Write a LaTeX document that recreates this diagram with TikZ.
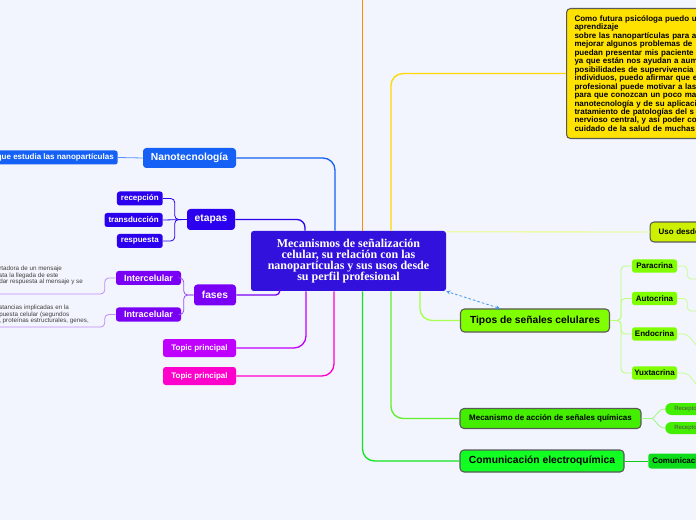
\documentclass[tikz,border=0pt]{standalone}
\usepackage{fontspec}
\setmainfont{Liberation Sans}
\newfontfamily\titlefont{Liberation Serif}
\usetikzlibrary{calc, arrows.meta, positioning}

\definecolor{bgcol}{HTML}{F2F5FD}
\definecolor{centralcol}{HTML}{3311DD}
\definecolor{nanocol}{HTML}{1560F5}
\definecolor{etapacol}{HTML}{2A00EE}
\definecolor{fasecol}{HTML}{7A00F5}
\definecolor{topicA}{HTML}{C000FF}
\definecolor{topicB}{HTML}{FF00CC}
\definecolor{orangecol}{HTML}{FF8C00}
\definecolor{yellowcol}{HTML}{FFE200}
\definecolor{usocol}{HTML}{CCF000}
\definecolor{tiposcol}{HTML}{80FF00}
\definecolor{mecacol}{HTML}{44EE00}
\definecolor{comucol}{HTML}{11FF22}
\definecolor{arrowblue}{HTML}{4499EE}

\begin{document}
\begin{tikzpicture}[x=0.75pt, y=-0.75pt, >={Stealth[length=3pt, width=3pt]}]
        % Define block styles
        \tikzstyle{topic} = [rounded corners=2.5pt, inner sep=0pt, text=white, font=\bfseries\fontsize{7.7}{9}\selectfont]
        \tikzstyle{subtopic} = [rounded corners=2pt, inner ysep=0pt, inner xsep=3pt, minimum height=10.5pt, text=white, font=\bfseries\fontsize{6}{7}\selectfont]
        \tikzstyle{mainbox} = [draw=black!65, line width=0.8pt, rounded corners=3pt, inner sep=0pt, font=\bfseries\fontsize{7.7}{9}\selectfont]
        \tikzstyle{leaf} = [rounded corners=2pt, inner sep=0pt, font=\bfseries\fontsize{6}{7}\selectfont]
        \tikzstyle{note} = [inner sep=0pt, align=left, text=black!75, font=\fontsize{4.7}{4.8}\selectfont]
        \tikzstyle{branch} = [line width=1pt, rounded corners=9pt]
        \tikzstyle{twig} = [line width=0.6pt, rounded corners=3pt]

        \useasboundingbox (0,0) rectangle (696,520);
        \fill[bgcol] (0,0) rectangle (696,520);
        \clip (0,0) rectangle (696,520);

        % Nodes
        \node [fill=centralcol, text=white, rounded corners=2pt, minimum width=146.25pt, minimum height=45pt, inner sep=0pt, align=center, font=\titlefont\bfseries\fontsize{9}{8.4}\selectfont] (central) at (348.5,261) {Mecanismos de señalización\\celular, su relación con las\\nanopartículas y sus usos desde\\su perfil profesional};

        \node [topic, fill=nanocol, minimum width=69.75pt, minimum height=15pt] (nano) at (189.5,158) {Nanotecnología};
        \node [subtopic, fill=nanocol, anchor=east] (nanodef) at (118,157.5) {que estudia las nanopartículas};

        \node [topic, fill=etapacol, minimum width=36pt, minimum height=15.75pt] (etapas) at (211,219.5) {etapas};
        \node [subtopic, fill=etapacol, anchor=east] (recep) at (163,198.5) {recepción};
        \node [subtopic, fill=etapacol, anchor=east] (transd) at (163,220) {transducción};
        \node [subtopic, fill=etapacol, anchor=east] (resp) at (163,241) {respuesta};

        \node [topic, fill=fasecol, minimum width=31.5pt, minimum height=15.75pt] (fases) at (215,295) {fases};
        \node [subtopic, fill=fasecol, minimum width=48.75pt, font=\bfseries\fontsize{6.8}{7}\selectfont] (inter) at (148.5,278) {Intercelular};
        \node [subtopic, fill=fasecol, minimum width=48.75pt, font=\bfseries\fontsize{6.8}{7}\selectfont] (intra) at (148.5,314.5) {Intracelular};
        \node [note, anchor=north west] (intertxt) at (-1,266) {rtadora de un mensaje\\sta la llegada de este\\dar respuesta al mensaje y se};
        \node [note, anchor=north west] (intratxt) at (-1,305) {stancias implicadas en la\\puesta celular (segundos\\, proteínas estructurales, genes,};
        \coordinate (interend) at (-6,294);
        \coordinate (intraend) at (-6,327);

        \node [subtopic, fill=topicA, minimum width=54.75pt, minimum height=13.5pt] (topicone) at (199.5,348) {Topic principal};
        \node [subtopic, fill=topicB, minimum width=54.75pt, minimum height=13.5pt] (topictwo) at (199.5,376) {Topic principal};

        \coordinate (offtop) at (362.5,-4);
        \node [mainbox, fill=yellowcol, anchor=north west, text width=150pt, minimum height=97.5pt, inner xsep=6pt, align=left, font=\bfseries\fontsize{6}{6.35}\selectfont] (uso1) at (566,8) {Como futura psicóloga puedo u\\aprendizaje\\sobre las nanopartículas para a\\mejorar algunos problemas de\\puedan presentar mis paciente\\ya que están nos ayudan a aum\\posibilidades de supervivencia\\individuos, puedo afirmar que e\\profesional puede motivar a las\\para que conozcan un poco ma\\nanotecnología y de su aplicaci\\tratamiento de patologías del s\\nervioso central, y así poder co\\cuidado de la salud de muchas};
        \node [mainbox, fill=usocol, anchor=west, text width=60pt, minimum height=15pt, inner xsep=6.4pt, align=left, font=\bfseries\fontsize{6}{7}\selectfont] (uso2) at (649.5,232) {Uso desde};

        \node [mainbox, fill=tiposcol, minimum width=111.75pt, minimum height=17.25pt] (tipos) at (535,320.5) {Tipos de señales celulares};
        \node [leaf, fill=tiposcol, minimum width=33.75pt, minimum height=10.1pt] (para) at (654.5,266) {Paracrina};
        \node [leaf, fill=tiposcol, minimum width=33.75pt, minimum height=10.1pt] (auto) at (654.5,298.5) {Autocrina};
        \node [leaf, fill=tiposcol, minimum width=33.75pt, minimum height=10.1pt] (endo) at (654.5,334) {Endocrina};
        \node [leaf, fill=tiposcol, minimum width=33.75pt, minimum height=10.1pt] (yuxt) at (654.5,373) {Yuxtacrina};
        \coordinate (paraend) at (705,279);
        \coordinate (autoend) at (705,311);
        \coordinate (endoend) at (705,356);
        \coordinate (yuxtend) at (705,395);

        \node [mainbox, fill=mecacol, minimum width=135.75pt, minimum height=15pt, font=\bfseries\fontsize{6}{7}\selectfont] (meca) at (550.5,418.5) {Mecanismo de acción de señales químicas};
        \node [leaf, fill=mecacol, anchor=west, rounded corners=4.5pt, text width=40pt, minimum height=9pt, inner xsep=6.75pt, align=left, text=black!70, font=\fontsize{4.5}{5}\selectfont] (recone) at (665,409) {Recepto};
        \node [leaf, fill=mecacol, anchor=west, rounded corners=4.5pt, text width=40pt, minimum height=9pt, inner xsep=6.75pt, align=left, text=black!70, font=\fontsize{4.5}{5}\selectfont] (rectwo) at (665,428) {Recepto};

        \node [mainbox, fill=comucol, minimum width=123pt, minimum height=16.5pt] (comu) at (542,461) {Comunicación electroquímica};
        \node [leaf, fill=comucol!85!black!90!green, anchor=west, text width=60pt, minimum height=11.25pt, inner xsep=3pt, align=left] (comusub) at (648,461) {Comunicaci};

        % Edges
        \draw [branch, nanocol] ($(central.north)+(-13.5,0)$) |- (nano.east);
        \draw [twig, nanocol!70] (nanodef.east) -- (nano.west);
        \draw [branch, etapacol, rounded corners=6pt] ($(central.north)+(-43.5,0)$) |- (etapas.east);
        \draw [twig, etapacol] (etapas.west) -- +(-12,0) |- (recep.east);
        \draw [twig, etapacol] (etapas.west) -- (transd.east);
        \draw [twig, etapacol] (etapas.west) -- +(-12,0) |- (resp.east);
        \draw [branch, fasecol, rounded corners=3pt] ($(central.south west)+(29,0)$) |- (fases.east);
        \draw [twig, fasecol!70] (fases.west) -- +(-10,0) |- (inter.east);
        \draw [twig, fasecol!70] (fases.west) -- +(-10,0) |- (intra.east);
        \draw [twig, fasecol!45] (inter.west) -- +(-11,0) |- (interend);
        \draw [twig, fasecol!45] (intra.west) -- +(-11,0) |- (intraend);
        \draw [branch, topicA] ($(central.south)+(-42.5,0)$) |- (topicone.east);
        \draw [branch, topicB] ($(central.south)+(-14.5,0)$) |- (topictwo.east);

        \draw [branch, orangecol] ($(central.north)+(14,0)$) -- (offtop);
        \draw [branch, yellowcol!90!orange] ($(central.north)+(42.5,0)$) |- (uso1.west);
        \draw [branch, usocol!35] ($(central.north east)+(0,1)$) -- (uso2.west);
        \draw [branch, tiposcol!70] ($(central.south)+(71.5,0)$) |- (tipos.west);
        \draw [twig, tiposcol!55] (tipos.east) -- +(11,0) |- (para.west);
        \draw [twig, tiposcol!55] (tipos.east) -- +(11,0) |- (auto.west);
        \draw [twig, tiposcol!55] (tipos.east) -- +(11,0) |- (endo.west);
        \draw [twig, tiposcol!55] (tipos.east) -- +(11,0) |- (yuxt.west);
        \draw [twig, tiposcol!45] (para.east) -- +(10,0) |- (paraend);
        \draw [twig, tiposcol!45] (auto.east) -- +(10,0) |- (autoend);
        \draw [twig, tiposcol!45] (endo.east) -- +(10,0) -- (endoend);
        \draw [twig, tiposcol!45] (yuxt.east) -- +(10,0) -- (yuxtend);
        \draw [branch, mecacol!85] ($(central.south)+(42.5,0)$) |- (meca.west);
        \draw [twig, mecacol!50] (meca.east) -- +(6,0) .. controls +(8,0) and +(-8,0) .. (recone.west);
        \draw [twig, mecacol!50] (meca.east) -- +(6,0) .. controls +(8,0) and +(-8,0) .. (rectwo.west);
        \draw [branch, comucol!90!black] ($(central.south)+(14,0)$) |- (comu.west);
        \draw [twig, comucol!80!black] (comu.east) -- (comusub.west);
        \draw [<->, arrowblue, line width=0.6pt, dash pattern=on 2pt off 1.5pt] ($(tipos.north west)+(40,0)$) -- (central.south east);
\end{tikzpicture}
\end{document}
